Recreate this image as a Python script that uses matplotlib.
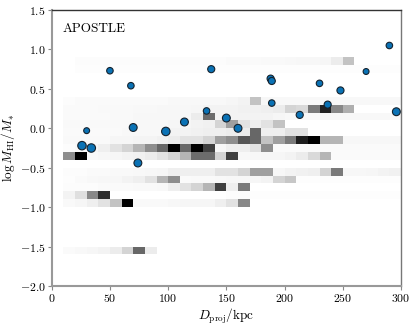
import numpy as np
import matplotlib
matplotlib.use("Agg")
import matplotlib.pyplot as plt

plt.rcParams['font.family'] = 'serif'
plt.rcParams['font.serif'] = ['cmr10']
plt.rcParams['mathtext.fontset'] = 'cm'
plt.rcParams['axes.formatter.use_mathtext'] = True

# ---- 2D histogram (grey background): x bins 10..300 kpc (10 kpc), y bins of 0.1 dex
x_edges = np.arange(10, 301, 10)
row_lo = [0.8, 0.7, 0.3, 0.2, 0.1, 0.0, -0.1, -0.2, -0.3, -0.4,
          -0.6, -0.7, -0.8, -0.9, -1.0, -1.6]
# darkness per cell (0 = empty), columns for 10,20,...,290 kpc
hist_rows = [
 [0, .03,.03,.03,.03,.03,.03,.03,.03,.03,.03,.03,.03,.03,.04,.04,.04,.05,.05,.06,.07,.07,.08,.15,.35, 0, 0, 0, 0],
 [0, .02,.02,.02,.02,.02,.02,.02,.02,.02,.02,.02,.02,.02,.02,.02,.02,.02,.02,.02,.02,.02,.02,.02,.02,.02,.02,.02,.02],
 [.03,.04,.04,.04,.04,.04,.04,.04,.04,.06,.06,.06,.06,.06,.08,.10,.35,.07,.06,.06,.06,.06,.06,.06,.06,.06,.06,.06,.06],
 [.04,.04,.04,.05,.05,.05,.06,.06,.07,.07,.07,.08,.10,.10,.10,.12,.12,.13,.15,.27,.25,.60,.88,.55,.42, 0, 0, 0, 0],
 [.04,.04,.04,.04,.05,.05,.07,.07,.07,.07,.07,.15,.65,.10,.10,.10,.10,.10,.08,.06,.06,.06,.06,.06,.06,.06,.06,.06,.06],
 [.05,.05,.05,.05,.05,.05,.06,.06,.06,.08,.08,.10,.12,.27,.47,.20,.13,.20,.35, 0, 0, 0, 0, 0, 0, 0, 0, 0, 0],
 [.04,.04,.04,.04,.04,.06,.06,.06,.06,.10,.10,.12,.13,.13,.15,.15,.67,.13,.13,.20,.20, 0, 0, 0, 0, 0, 0, 0, 0],
 [.05,.05,.05,.05,.08,.08,.09,.09,.12,.15,.20,.20,.27,.47,.53,.73,.67,.35,.47,.60,.90,1.0,.40,.40,.07,.07,.07,.07,.07],
 [.03,.05,.08,.13,.20,.27,.40,.53,.67,1.0,.67,1.0,.80,.07,.13,.13,.20,.53,.04,.04,.04,.04,.04,.04,.04,.04,.04,.04,.04],
 [.53,1.0,.05,.07,.08,.10,.12,.15,.20,.27,.40,.65,.65,.27,.80,.06,.07,.08,.08,.10,.15,.25,.40,.04,.04,.04,.04,.04,.04],
 [.03,.03,.04,.04,.05,.05,.06,.07,.08,.13,.13,.13,.13,.20,.20,.27,.47,.47,.07,.10,.12,.13,.27,.60,.07,.07,.08,.10,.12],
 [.02,.04,.06,.07,.07,.10,.13,.20,.40,.53,.04,.05,.05,.06,.07,.07,.08,.10,.27,.33,.02,.02,.02,.02,.02,.02,.02,.02,.02],
 [.03,.03,.03,.04,.04,.04,.05,.05,.06,.13,.20,.27,.40,.80,.13,.60, 0, 0, 0, 0, 0, 0, 0, 0, 0, 0, 0, 0, 0],
 [.10,.22,.55,.85, 0, 0, 0, 0, 0, 0, 0, 0, 0, 0,.02,.02,.02,.02,.02,.02,.02,.02,.02,.02,.02,.02,.02,.02,.02],
 [.05,.08,.13,.20,.35,1.0,.05,.05,.05,.07,.08,.08,.08,.13,.20,.55, 0, 0, 0, 0, 0, 0, 0, 0, 0, 0, 0, 0, 0],
 [.04,.06,.08,.10,.15,.27,.67,.15, 0, 0, 0, 0, 0, 0, 0, 0, 0, 0, 0, 0, 0, 0, 0, 0, 0, 0, 0, 0, 0],
]

# ---- observed galaxies (scatter)
d_proj = [50, 68, 137, 290, 270, 188, 189, 230, 248, 189, 133, 237, 296,
          150, 213, 160, 30, 70, 98, 114, 26, 34, 74]
log_hi_star = [0.73, 0.54, 0.75, 1.05, 0.72, 0.63, 0.60, 0.57, 0.48, 0.32, 0.22,
               0.30, 0.21, 0.13, 0.17, 0.00, -0.03, 0.01, -0.04, 0.08, -0.22,
               -0.25, -0.44]
point_sizes = [22, 22, 26, 22, 18, 26, 26, 22, 26, 22, 22, 26, 32,
               32, 26, 32, 18, 32, 37, 32, 37, 37, 32]

y_edges = np.round(np.arange(-1.7, 0.91, 0.1), 2)
H = np.zeros((len(y_edges) - 1, len(x_edges) - 1))
for lo, row in zip(row_lo, hist_rows):
    i = int(round((lo - y_edges[0]) / 0.1))
    H[i] = row
Hm = np.ma.masked_where(H <= 0, H)

fig = plt.figure(figsize=(4.15, 3.25), dpi=100)
ax = fig.add_axes([0.1246, 0.12, 0.8417, 0.8492])
ax.pcolormesh(x_edges, y_edges, Hm, cmap='Greys', vmin=0, vmax=1)
ax.scatter(d_proj, log_hi_star, s=point_sizes, c='#0a72b5', edgecolors='#14222e',
           linewidths=0.8, zorder=3)

ax.set_xlim(0, 300)
ax.set_ylim(-2.0, 1.5)
ax.set_xticks([0, 50, 100, 150, 200, 250, 300])
ax.set_yticks([-2.0, -1.5, -1.0, -0.5, 0.0, 0.5, 1.0, 1.5])
ax.yaxis.set_major_formatter(matplotlib.ticker.FormatStrFormatter('$%.1f$'))
ax.xaxis.set_major_formatter(matplotlib.ticker.FormatStrFormatter('$%d$'))
ax.tick_params(direction='out', length=3, width=0.8, color='#888888',
               labelsize=8.5, pad=1.5)
for side in ['left', 'bottom']:
    ax.spines[side].set_color('#999999')
    ax.spines[side].set_linewidth(1.5)
ax.spines['top'].set_color('#333333')
ax.spines['top'].set_linewidth(1.0)
ax.spines['right'].set_color('#777777')
ax.spines['right'].set_linewidth(1.0)

ax.set_xlabel(r'$D_{\rm proj}/{\rm kpc}$', fontsize=9.5, labelpad=2)
ax.set_ylabel(r'$\log M_{\rm HI}/M_{*}$', fontsize=9.5, labelpad=2)
ax.text(0.03, 0.955, 'APOSTLE', transform=ax.transAxes, fontsize=9.5,
        va='top', ha='left')

fig.savefig('out.png', dpi=100)
